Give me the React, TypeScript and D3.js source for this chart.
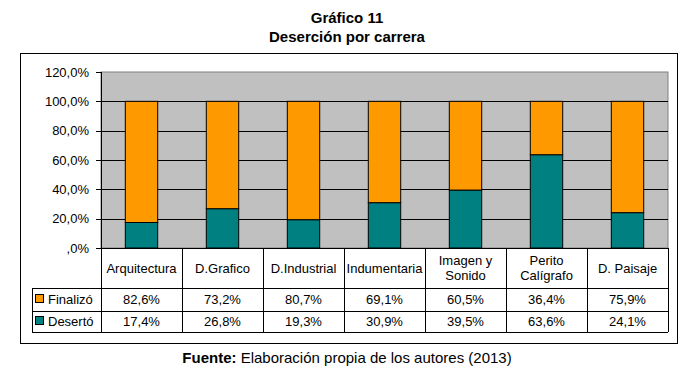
import React from "react";
import * as d3 from "d3";

const categories = ["Arquitectura", "D.Grafico", "D.Industrial", "Indumentaria", "Imagen y\nSonido", "Perito\nCalígrafo", "D. Paisaje"];
const finalizo = [82.6, 73.2, 80.7, 69.1, 60.5, 36.4, 75.9];
const deserto = [17.4, 26.8, 19.3, 30.9, 39.5, 63.6, 24.1];
const yTicks = [0, 20, 40, 60, 80, 100, 120];
const seriesNames = ["Finalizó", "Desertó"];
const colors = ["#FF9900", "#008080"];

const fmt = (v: number) => (v === 0 ? ",0%" : v.toFixed(1).replace(".", ",") + "%");

export default function App() {
  const W = 694, H = 380;
  const left = 101, right = 668, top = 72, bottom = 248;
  const x = d3.scaleBand<string>().domain(categories).range([left, right]).paddingInner(0).paddingOuter(0);
  const y = d3.scaleLinear().domain([0, 120]).range([bottom, top]);
  const bw = x.bandwidth() * 0.4;
  const row0 = 248, row1 = 288, row2 = 311, row3 = 332;
  const font = "'Liberation Sans', Arial, sans-serif";
  const fs = 13;
  const series = [finalizo, deserto];
  return (
    <svg width={W} height={H} style={{ position: "absolute", left: 0, top: 0, fontFamily: font }}>
      <rect x={0} y={0} width={W} height={H} fill="#fff" />
      <text x={347} y={22.5} textAnchor="middle" fontSize={15} fontWeight="bold">Gráfico 11</text>
      <text x={347} y={41.5} textAnchor="middle" fontSize={15} fontWeight="bold">Deserción por carrera</text>
      <rect x={20.5} y={53.5} width={657} height={290} fill="#fff" stroke="#000" strokeWidth={1} />
      {/* plot area */}
      <rect x={left} y={top} width={right - left} height={bottom - top} fill="#C0C0C0" stroke="#808080" strokeWidth={1} />
      {yTicks.filter((t) => t > 0 && t < 120).map((t) => (
        <line key={t} x1={left} x2={right} y1={Math.round(y(t)) + 0.5} y2={Math.round(y(t)) + 0.5} stroke="#000" />
      ))}
      {/* bars */}
      {categories.map((c, i) => {
        const cx = (x(c) as number) + x.bandwidth() / 2;
        const d = deserto[i];
        const f = finalizo[i];
        return (
          <g key={c}>
            <rect x={cx - bw / 2} y={y(d)} width={bw} height={y(0) - y(d)} fill={colors[1]} stroke="#000" strokeWidth={1} />
            <rect x={cx - bw / 2} y={y(d + f)} width={bw} height={y(d) - y(d + f)} fill={colors[0]} stroke="#000" strokeWidth={1} />
          </g>
        );
      })}
      {/* y axis */}
      <line x1={left + 0.5} x2={left + 0.5} y1={top} y2={bottom} stroke="#000" />
      {yTicks.map((t) => (
        <g key={t}>
          <line x1={left - 5} x2={left} y1={Math.round(y(t)) + 0.5} y2={Math.round(y(t)) + 0.5} stroke="#000" />
          <text x={89} y={y(t) + 4.5} textAnchor="end" fontSize={fs}>{fmt(t)}</text>
        </g>
      ))}
      {/* table */}
      <line x1={left} x2={right} y1={row0 + 0.5} y2={row0 + 0.5} stroke="#000" />
      <line x1={32} x2={right} y1={row1 + 0.5} y2={row1 + 0.5} stroke="#000" />
      <line x1={32} x2={right} y1={row2 + 0.5} y2={row2 + 0.5} stroke="#000" />
      <line x1={32} x2={right} y1={row3 + 0.5} y2={row3 + 0.5} stroke="#000" />
      <line x1={32.5} x2={32.5} y1={row1} y2={row3} stroke="#000" />
      {categories.map((c) => (
        <line key={"v" + c} x1={Math.round(x(c) as number) + 0.5} x2={Math.round(x(c) as number) + 0.5} y1={row0} y2={row3} stroke="#000" />
      ))}
      <line x1={right + 0.5} x2={right + 0.5} y1={row0} y2={row3} stroke="#000" />
      {categories.map((c) => {
        const cx = (x(c) as number) + x.bandwidth() / 2;
        const lines = c.split("\n");
        const mid = (row0 + row1) / 2;
        return (
          <text key={"h" + c} x={cx} textAnchor="middle" fontSize={fs}>
            {lines.map((l, k) => (
              <tspan key={k} x={cx} y={mid + 4.5 + (k - (lines.length - 1) / 2) * 15.5}>{l}</tspan>
            ))}
          </text>
        );
      })}
      {series.map((s, si) => {
        const ry0 = si === 0 ? row1 : row2;
        const ry1 = si === 0 ? row2 : row3;
        const my = (ry0 + ry1) / 2 + 4.5;
        return (
          <g key={"s" + si}>
            <rect x={35.5} y={my - 9.5} width={8} height={8} fill={colors[si]} stroke="#000" />
            <text x={48} y={my} fontSize={fs}>{seriesNames[si]}</text>
            {categories.map((c, i) => (
              <text key={c} x={(x(c) as number) + x.bandwidth() / 2} y={my} textAnchor="middle" fontSize={fs}>{fmt(s[i])}</text>
            ))}
          </g>
        );
      })}
      <text x={347} y={362.5} textAnchor="middle" fontSize={15}>
        <tspan fontWeight="bold">Fuente:</tspan> Elaboración propia de los autores (2013)
      </text>
    </svg>
  );
}
